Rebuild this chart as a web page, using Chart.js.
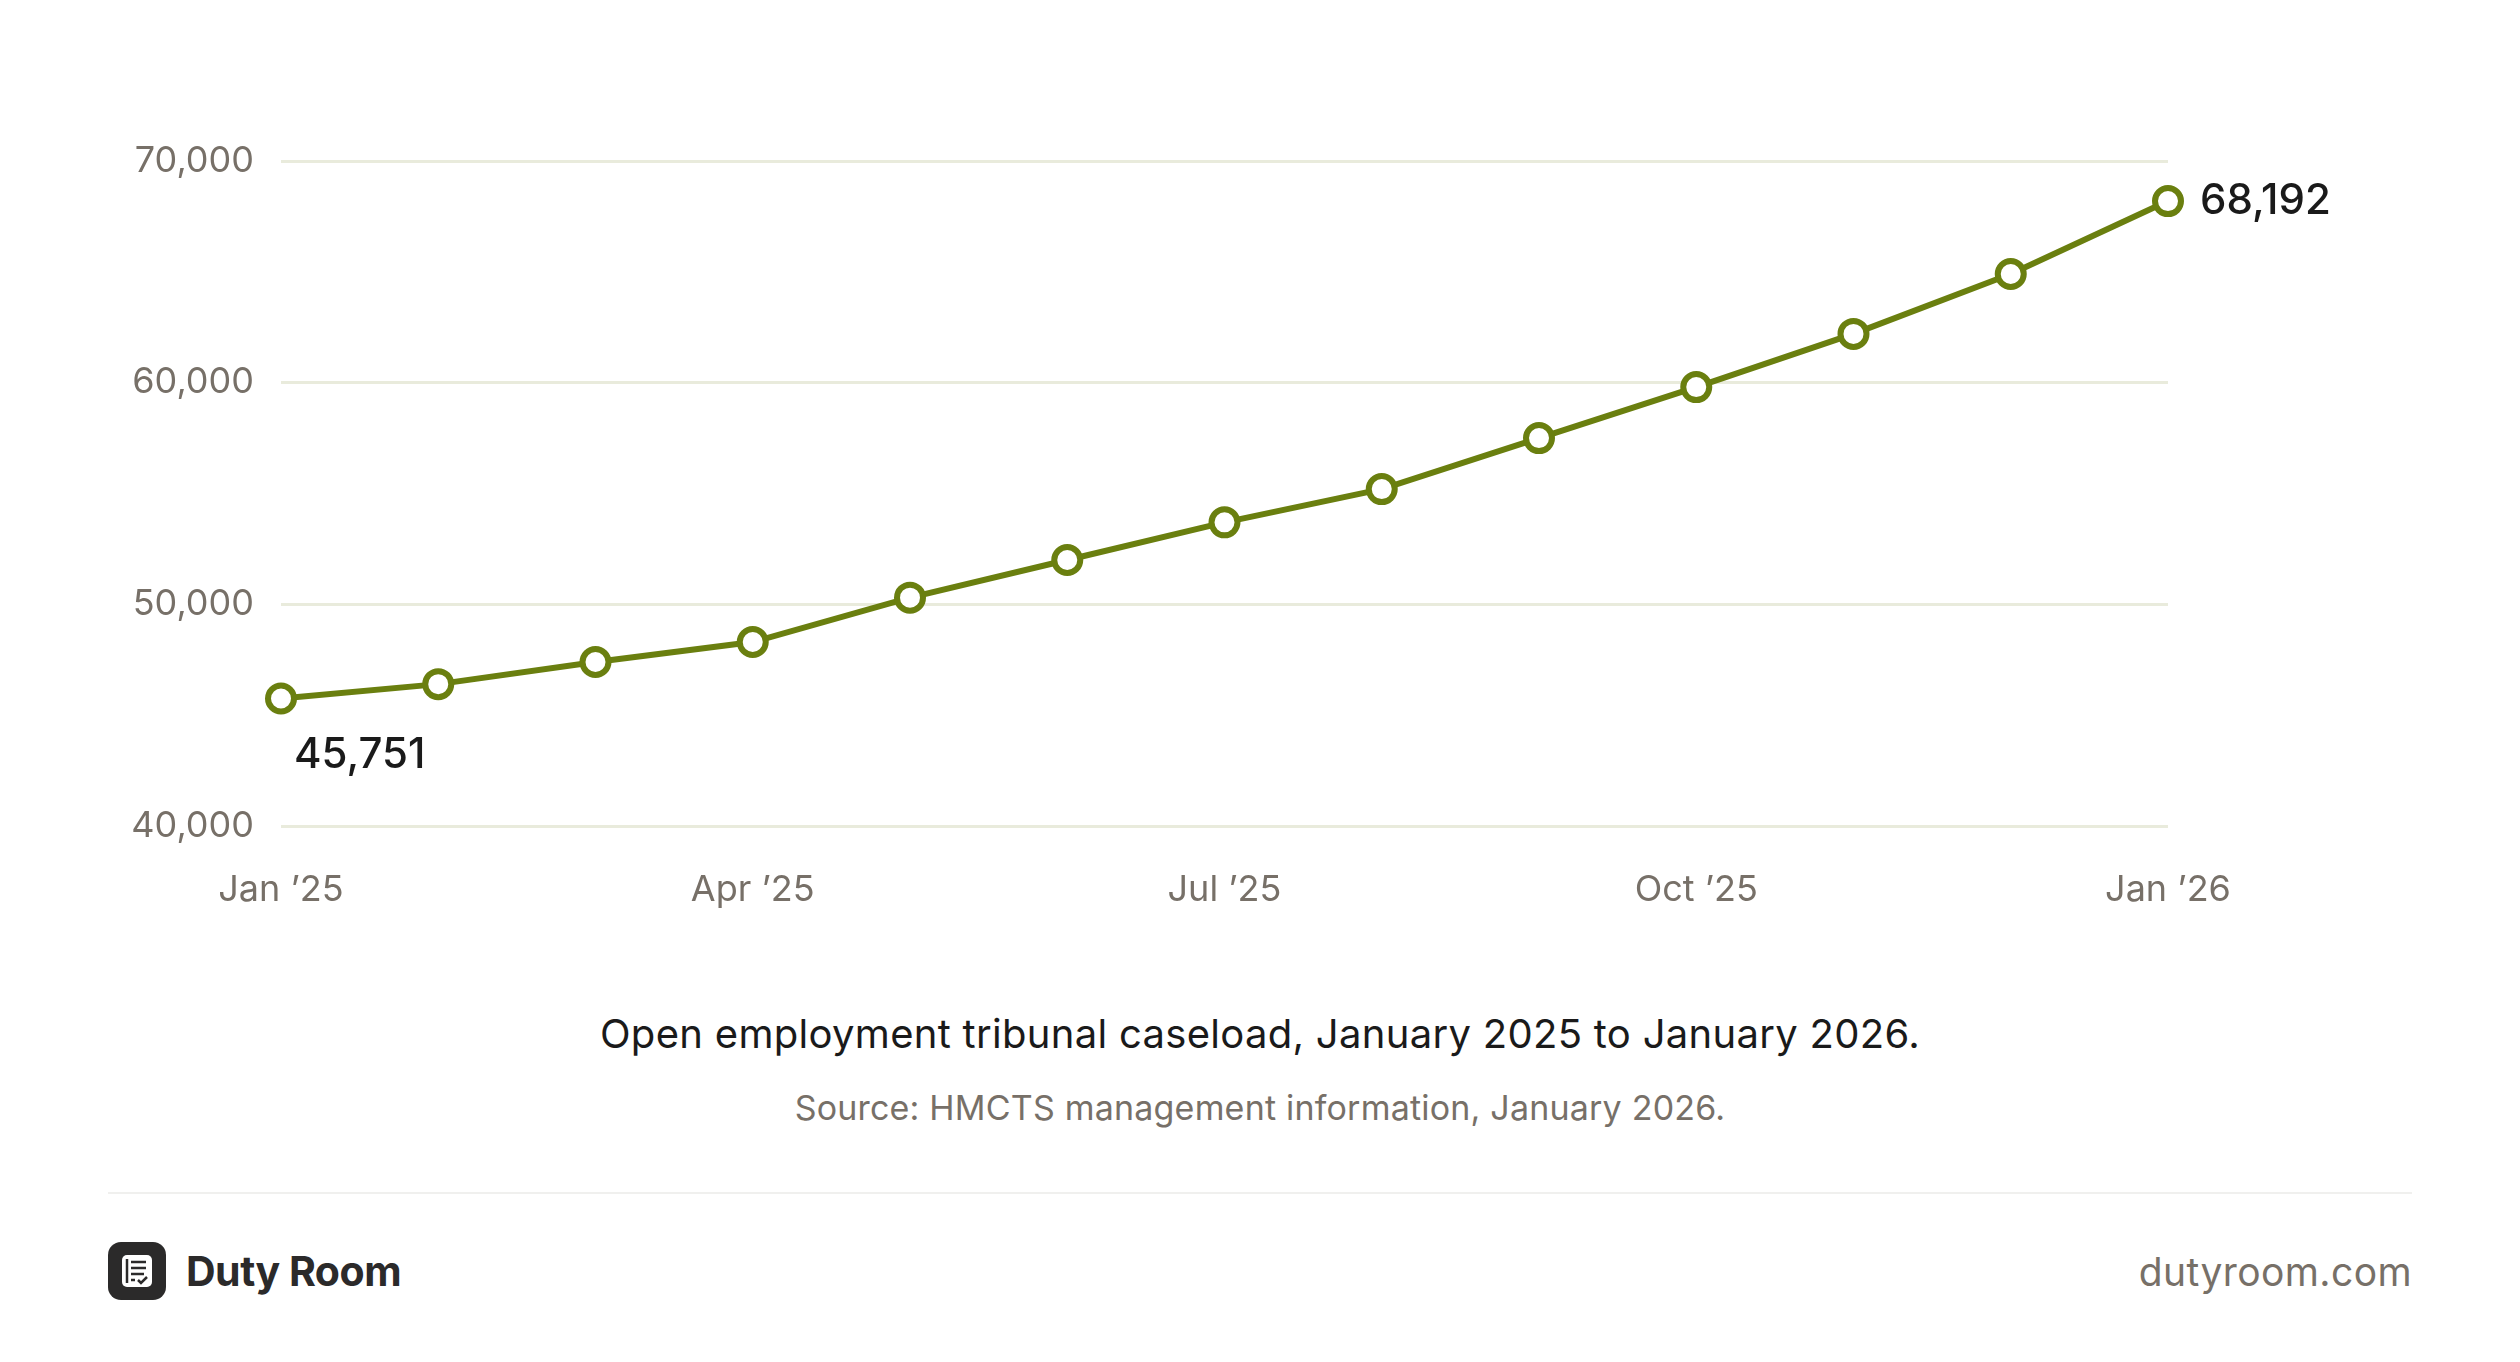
<!DOCTYPE html>
<html><head><meta charset="utf-8">
<script src="https://cdn.jsdelivr.net/npm/chart.js@4"></script>
<style>
html,body{margin:0;padding:0;background:#fff;width:2520px;height:1362px;overflow:hidden;font-family:Inter,"Noto Sans",sans-serif;}
#wrap{position:absolute;left:0;top:0;width:2520px;height:960px;}
.t{position:absolute;left:0;width:2520px;text-align:center;}
</style></head><body>
<div id="wrap"><canvas id="c"></canvas></div>
<div class="t" style="top:1009px;font-size:40px;color:#1a1a1a;letter-spacing:0.3px;">Open employment tribunal caseload, January 2025 to January 2026.</div>
<div class="t" style="top:1087px;font-size:34px;color:#777068;letter-spacing:0.2px;">Source: HMCTS management information, January 2026.</div>
<div style="position:absolute;left:108px;top:1192px;width:2304px;height:2px;background:#f0f0ee;"></div>
<svg style="position:absolute;left:108px;top:1242px" width="58" height="58" viewBox="0 0 58 58">
<rect x="0" y="0" width="58" height="58" rx="13" fill="#2b2a2a"/>
<rect x="14" y="13" width="30" height="32" rx="5" fill="#fff"/>
<line x1="19" y1="17" x2="19" y2="41" stroke="#2b2a2a" stroke-width="2.5"/>
<line x1="23" y1="20" x2="38" y2="20" stroke="#2b2a2a" stroke-width="2.5"/>
<line x1="23" y1="26" x2="38" y2="26" stroke="#2b2a2a" stroke-width="2.5"/>
<line x1="23" y1="32" x2="36" y2="32" stroke="#2b2a2a" stroke-width="2.5"/>
<line x1="23" y1="38" x2="27" y2="38" stroke="#2b2a2a" stroke-width="2.5"/>
<polyline points="30,38 33,41 39,35" fill="none" stroke="#2b2a2a" stroke-width="2.5"/>
</svg>
<div style="position:absolute;left:186px;top:1246px;font-size:41px;font-weight:700;color:#2b2a2a;letter-spacing:-0.5px;">Duty Room</div>
<div style="position:absolute;right:108px;top:1248px;font-size:39px;color:#777068;letter-spacing:0.4px;">dutyroom.com</div>
<script>
const categories=["Jan '25","Feb '25","Mar '25","Apr '25","May '25","Jun '25","Jul '25","Aug '25","Sep '25","Oct '25","Nov '25","Dec '25","Jan '26"];
const tickLabels={0:"Jan \u201925",3:"Apr \u201925",6:"Jul \u201925",9:"Oct \u201925",12:"Jan \u201926"};
const caseload=[45751,46400,47400,48300,50300,52000,53700,55200,57500,59800,62200,64900,68192];
const yTicks=[40000,50000,60000,70000];
const green="#6a7f0f";
const endLabels={
  id:'endLabels',
  afterDatasetsDraw(chart){
    const ctx=chart.ctx, meta=chart.getDatasetMeta(0);
    ctx.save();ctx.fillStyle="#1a1a1a";ctx.font="500 42px Inter";ctx.textBaseline="middle";
    const p0=meta.data[0], pn=meta.data[meta.data.length-1];
    ctx.textAlign="left";
    ctx.fillText(caseload[0].toLocaleString('en-GB'),p0.x+13,p0.y+57);
    ctx.fillText(caseload[caseload.length-1].toLocaleString('en-GB'),pn.x+32,pn.y);
    ctx.restore();
  }
};
new Chart(document.getElementById('c'),{
  type:'line',
  data:{labels:categories,datasets:[{data:caseload,borderColor:green,borderWidth:6,pointRadius:13,pointBorderWidth:6,pointBackgroundColor:"#fff",pointBorderColor:green,tension:0}]},
  options:{responsive:true,maintainAspectRatio:false,animation:false,
    layout:{padding:{top:161,right:352,left:0,bottom:0}},
    plugins:{legend:{display:false},tooltip:{enabled:false}},
    scales:{
      x:{offset:false,grid:{display:false},border:{display:false},
        afterFit(s){s.height=134;},
        ticks:{autoSkip:false,maxRotation:0,padding:35,color:"#777068",font:{size:36,family:"Inter"},
          callback:(v,i)=>tickLabels[i]??""}},
      y:{min:40000,max:70000,afterFit(s){s.width=281;},
        afterBuildTicks(s){s.ticks=yTicks.map(v=>({value:v}));},
        grid:{color:"#e9ebdc",lineWidth:3,drawTicks:false},border:{display:false},
        ticks:{padding:27,color:"#777068",font:{size:36,family:"Inter"},callback:v=>v.toLocaleString('en-GB')}}
    }},
  plugins:[endLabels]
});
</script>
</body></html>
